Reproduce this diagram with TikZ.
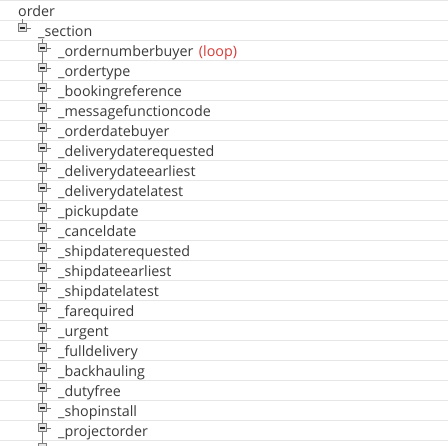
\documentclass[tikz,border=0pt]{standalone}
\usepackage{fontspec}
\setmainfont{Open Sans}
\definecolor{txt}{HTML}{3A3A3A}
\definecolor{loopred}{HTML}{D63A36}
\definecolor{sep}{HTML}{E6E6E6}
\definecolor{boxedge}{HTML}{7E7E7E}
\definecolor{treeline}{HTML}{7A7A7A}
\tikzset{
  lbl/.style={anchor=base west, inner sep=0pt, text=txt, font=\fontsize{14.3}{16}\selectfont},
  tog/.style={draw=boxedge, line width=1pt, minimum width=8pt, minimum height=8pt, inner sep=0pt,
    fill=black!10},
  minus/.style={black!85, line width=1.5pt},
  tree/.style={treeline, line width=0.9pt},
  sepline/.style={sep, line width=0.8pt}
}
\begin{document}
\begin{tikzpicture}[x=1pt,y=-1pt]
\useasboundingbox (0,0) rectangle (448,446);
\begin{scope}
\clip (0,0) rectangle (448,446);
% separators
\foreach \k in {0,...,22} {
  \draw[sepline] (0,{20*\k+0.5}) -- (448,{20*\k+0.5});
}
% root
\node[lbl] (order) at (18,17) {order};
\node[tog] (b1) at (22.5,28) {};
\draw[minus] ([xshift=-2.5pt]b1.center) -- ([xshift=2.5pt]b1.center);
\node[lbl] (section) at (38,37) {\_section};
\draw[tree] ([yshift=-2pt]order.base -| b1) -- (b1.north);
\draw[tree] (b1.east) -- ++(4,0) coordinate (d1);
% children
\foreach [count=\i from 2] \t in {ordernumberbuyer,ordertype,bookingreference,messagefunctioncode,orderdatebuyer,deliverydaterequested,deliverydateearliest,deliverydatelatest,pickupdate,canceldate,shipdaterequested,shipdateearliest,shipdatelatest,farequired,urgent,fulldelivery,backhauling,dutyfree,shopinstall,projectorder} {
  \node[tog] (b\i) at (42.5,{20*\i+8}) {};
  \draw[minus] ([xshift=-2.5pt]b\i.center) -- ([xshift=2.5pt]b\i.center);
  \node[lbl] (t\i) at (58,{20*\i+17}) {\_\t};
  \draw[tree] (b\i.east) -- ++(4,0) coordinate (d\i);
}
\node[tog] (b22) at (42.5,448) {};
\node[lbl, text=loopred, anchor=base west] (loop) at ([xshift=5pt]t2.base east) {(loop)};
% trunk
\draw[tree] ([yshift=-2pt]section.base -| b2) -- (b2.north);
\foreach \i [evaluate=\i as \j using int(\i+1)] in {2,...,21} {
  \draw[tree] (b\i.south) -- (b\j.north);
}
\end{scope}
\end{tikzpicture}
\end{document}
